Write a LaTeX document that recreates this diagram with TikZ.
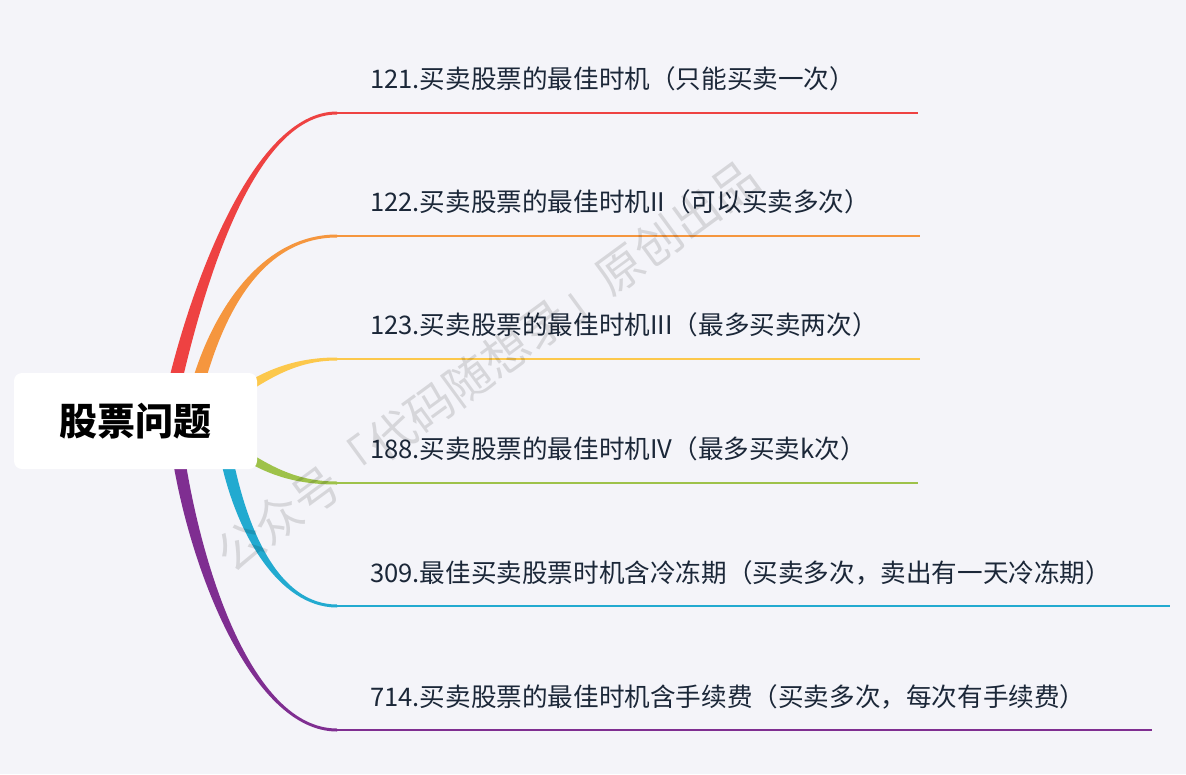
\documentclass[tikz,border=0pt]{standalone}
\usepackage{fontspec}
\setmainfont{Noto Sans CJK SC}
\usetikzlibrary{calc}
\definecolor{bgc}{HTML}{F4F4F9}
\definecolor{txt}{HTML}{1B2738}
\definecolor{cred}{HTML}{EE4242}
\definecolor{corange}{HTML}{F5963E}
\definecolor{cyellow}{HTML}{FCC84C}
\definecolor{cgreen}{HTML}{9EC24A}
\definecolor{ccyan}{HTML}{22AAD0}
\definecolor{cpurple}{HTML}{7F2E91}
% #1 colour, #2 start, #3 ctrl1, #4 ctrl2, #5 end, #6 start offset (side A), #7 start offset (side B)
\newcommand\mmbranch[7]{%
  \fill[#1] ($(#2)+(#6)$) .. controls ($(#3)+(#6)$) and ($(#4)+(0,-1.5)$) .. ($(#5)+(0,-1.5)$)
    -- ($(#5)+(0,1.5)$) .. controls ($(#4)+(0,1.5)$) and ($(#3)+(#7)$) .. ($(#2)+(#7)$) -- cycle;}
\tikzset{
  rootbox/.style={fill=white, rounded corners=8pt, minimum width=243pt, minimum height=96pt,
    inner sep=0pt, text=black, font=\bfseries\fontsize{38}{40}\selectfont},
  topic/.style={anchor=base west, inner sep=0pt, text=txt, font=\fontsize{25.6}{30}\selectfont},
  uline/.style={line width=2.6pt},
  wmark/.style={rotate=36.2, text=black, opacity=0.12, font=\fontsize{47}{50}\selectfont, inner sep=0pt}
}
\begin{document}
\begin{tikzpicture}[x=1pt,y=-1pt]
\fill[bgc] (0,0) rectangle (1186,774);
\useasboundingbox (0,0) rectangle (1186,774);

% branch anchor points
\coordinate (s1) at (171,400); \coordinate (a1) at (193,300); \coordinate (c1) at (250,113); \coordinate (e1) at (337,113); \coordinate (x1) at (918,113);
\coordinate (s2) at (195,395); \coordinate (a2) at (214,320); \coordinate (c2) at (258,236); \coordinate (e2) at (337,236); \coordinate (x2) at (920,236);
\coordinate (s3) at (240,392); \coordinate (a3) at (272,371); \coordinate (c3) at (300,359); \coordinate (e3) at (337,359); \coordinate (x3) at (920,359);
\coordinate (s4) at (240,452); \coordinate (a4) at (272,473); \coordinate (c4) at (300,483); \coordinate (e4) at (337,483); \coordinate (x4) at (918,483);
\coordinate (s5) at (225,450); \coordinate (a5) at (240,530); \coordinate (c5) at (278,606); \coordinate (e5) at (337,606); \coordinate (x5) at (1170,606);
\coordinate (s6) at (176,440); \coordinate (a6) at (192,560); \coordinate (c6) at (250,730); \coordinate (e6) at (337,730); \coordinate (x6) at (1152,730);

\mmbranch{cred}{s1}{a1}{c1}{e1}{-6.5,-1.5}{6.5,1.5}
\mmbranch{corange}{s2}{a2}{c2}{e2}{-6.2,-1.5}{6.2,1.5}
\mmbranch{cyellow}{s3}{a3}{c3}{e3}{-2.2,-4}{2.2,4}
\mmbranch{cgreen}{s4}{a4}{c4}{e4}{2.2,-4}{-2.2,4}
\mmbranch{ccyan}{s5}{a5}{c5}{e5}{6.1,-1.1}{-6.1,1.1}
\mmbranch{cpurple}{s6}{a6}{c6}{e6}{6.2,-0.8}{-6.2,0.8}

\draw[uline, cred] (e1) -- (x1);
\draw[uline, corange] (e2) -- (x2);
\draw[uline, cyellow] (e3) -- (x3);
\draw[uline, cgreen] (e4) -- (x4);
\draw[uline, ccyan] (e5) -- (x5);
\draw[uline, cpurple] (e6) -- (x6);

\node[rootbox] (root) at (135.5,421) {股票问题};

\node[topic] (t1) at (370,88) {121.买卖股票的最佳时机（只能买卖一次）};
\node[topic] (t2) at (370,211) {122.买卖股票的最佳时机II（可以买卖多次）};
\node[topic] (t3) at (370,334) {123.买卖股票的最佳时机III（最多买卖两次）};
\node[topic] (t4) at (370,458) {188.买卖股票的最佳时机IV（最多买卖k次）};
\node[topic] (t5) at (370,582) {309.最佳买卖股票时机含冷冻期（买卖多次，卖出有一天冷冻期）};
\node[topic] (t6) at (370,706) {714.买卖股票的最佳时机含手续费（买卖多次，每次有手续费）};

\node[wmark] (wm) at (487,366) {公众号「代码随想录」原创出品};
\end{tikzpicture}
\end{document}
